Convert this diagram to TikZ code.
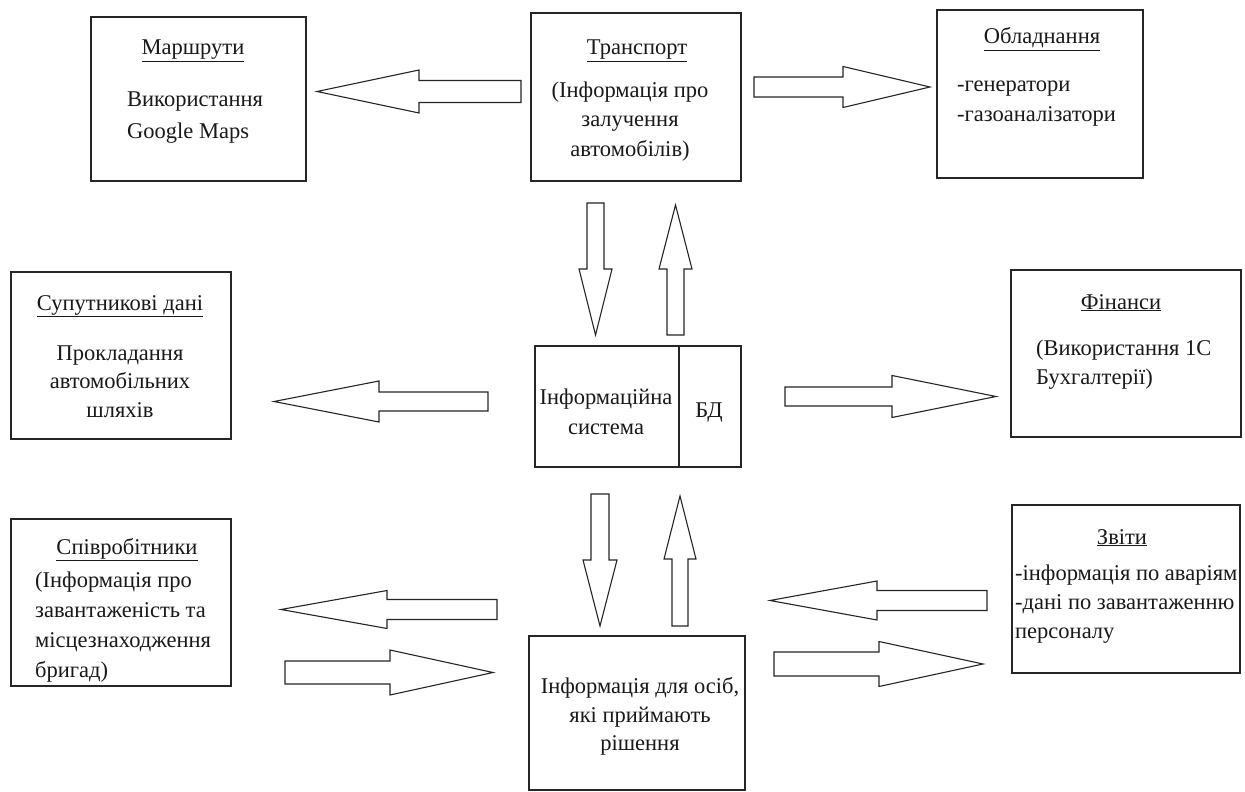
\documentclass[tikz,border=0pt]{standalone}
\usepackage{fontspec}
\setmainfont{Liberation Serif}
\usetikzlibrary{calc}
\tikzset{
  box/.style={draw=black!85, line width=1.4bp, inner sep=0pt, fill=none},
  txt/.style={inner sep=0pt, font=\fontsize{22.5bp}{29.5bp}\selectfont, text=black!90},
  blk/.style={draw=black!85, line width=1.1bp, fill=white, line join=miter, miter limit=6},
}
\newcommand{\bkarrow}[5]{%
  \coordinate (hb) at ($(#2)!#5!(#1)$);
  \draw[blk] ($(#1)!#3!90:(#2)$) -- ($(hb)!#3!-90:(#1)$) -- ($(hb)!#4!-90:(#1)$) -- (#2)
    -- ($(hb)!#4!90:(#1)$) -- ($(hb)!#3!90:(#1)$) -- ($(#1)!#3!-90:(#2)$) -- cycle;}
\begin{document}
\begin{tikzpicture}[x=1bp,y=-1bp]
\useasboundingbox (0,0) rectangle (1245,792);
\fill[white] (0,0) rectangle (1245,792);

% boxes
\node[box, minimum width=215bp, minimum height=164bp] (m) at (198.5,99) {};
\node[box, minimum width=210bp, minimum height=168bp] (t) at (636,97) {};
\node[box, minimum width=206bp, minimum height=168bp] (o) at (1040,94) {};
\node[box, minimum width=220bp, minimum height=167bp] (s) at (121,355.5) {};
\node[box, minimum width=206bp, minimum height=121bp] (is) at (638,406.5) {};
\node[box, minimum width=230bp, minimum height=167bp] (f) at (1126,353.5) {};
\node[box, minimum width=220bp, minimum height=167bp] (sp) at (121,602.5) {};
\node[box, minimum width=216bp, minimum height=154bp] (d) at (637,713) {};
\node[box, minimum width=228bp, minimum height=168bp] (z) at (1126,589) {};
\coordinate (isdivT) at (679,346);
\coordinate (isdivB) at (679,467);
\draw[line width=1.4bp, draw=black!85] (isdivT) -- (isdivB);

% texts
\node[txt, anchor=base] (mT) at (193,55) {\underline{Маршрути}};
\node[txt, anchor=west, align=left, font=\fontsize{22.5bp}{32bp}\selectfont] (mB) at (127,118) {Використання\\Google Maps};
\node[txt, anchor=base] (tT) at (637,55) {\underline{Транспорт}};
\node[txt, align=center] (tB) at (630,121.5) {(Інформація про\\залучення\\автомобілів)};
\node[txt, anchor=base] (oT) at (1042,44) {\underline{Обладнання}};
\node[txt, anchor=west, align=left, font=\fontsize{22.5bp}{30bp}\selectfont] (oB) at (957,104) {-генератори\\-газоаналізатори};
\node[txt, anchor=base] (sT) at (120,310) {\underline{Супутникові дані}};
\node[txt, align=center, font=\fontsize{22.5bp}{28.5bp}\selectfont] (sB) at (120,381.5) {Прокладання\\автомобільних\\шляхів};
\node[txt, align=center, font=\fontsize{22.5bp}{30bp}\selectfont] (isL) at (606,412) {Інформаційна\\система};
\node[txt, anchor=base] (isR) at (709,417) {БД};
\node[txt, anchor=base] (fT) at (1121,309) {\underline{Фінанси}};
\node[txt, anchor=west, align=left, font=\fontsize{22.5bp}{29bp}\selectfont] (fB) at (1036,364.5) {(Використання 1С\\Бухгалтерії)};
\node[txt, anchor=base] (spT) at (127,554) {\underline{Співробітники}};
\node[txt, anchor=west, align=left, font=\fontsize{22.5bp}{30bp}\selectfont] (spB) at (35,627) {(Інформація про\\завантаженість та\\місцезнаходження\\бригад)};
\node[txt, align=center, font=\fontsize{22.5bp}{28.5bp}\selectfont] (dB) at (640,716.5) {Інформація для осіб,\\які приймають\\рішення};
\node[txt, anchor=base] (zT) at (1122,544) {\underline{Звіти}};
\node[txt, anchor=west, align=left, font=\fontsize{22.5bp}{29bp}\selectfont] (zB) at (1015,604) {-інформація по аваріям\\-дані по завантаженню\\персоналу};

% block arrows
\coordinate (a1s) at (521,91.5);   \coordinate (a1e) at (317,91.5);
\coordinate (a2s) at (754,87);     \coordinate (a2e) at (930,87);
\coordinate (a3s) at (595.5,203);  \coordinate (a3e) at (595.5,335);
\coordinate (a4s) at (675.5,335);  \coordinate (a4e) at (675.5,205);
\coordinate (a5s) at (488,401.5);  \coordinate (a5e) at (274,401.5);
\coordinate (a6s) at (785,396.5);  \coordinate (a6e) at (996,396.5);
\coordinate (a7s) at (600,494);    \coordinate (a7e) at (600,626);
\coordinate (a8s) at (680,626);    \coordinate (a8e) at (680,496);
\coordinate (a9s) at (497,609.5);  \coordinate (a9e) at (281,609.5);
\coordinate (a10s) at (285,672.5); \coordinate (a10e) at (493,672.5);
\coordinate (a11s) at (987,600.5); \coordinate (a11e) at (770,600.5);
\coordinate (a12s) at (774,664);   \coordinate (a12e) at (983,664);

\bkarrow{a1s}{a1e}{11bp}{21.5bp}{102bp}
\bkarrow{a2s}{a2e}{10bp}{20.5bp}{87bp}
\bkarrow{a3s}{a3e}{8.5bp}{16.5bp}{66bp}
\bkarrow{a4s}{a4e}{8.5bp}{16.5bp}{64bp}
\bkarrow{a5s}{a5e}{9.5bp}{20.5bp}{105bp}
\bkarrow{a6s}{a6e}{9.5bp}{21bp}{104bp}
\bkarrow{a7s}{a7e}{9bp}{17bp}{66bp}
\bkarrow{a8s}{a8e}{8bp}{16bp}{63bp}
\bkarrow{a9s}{a9e}{10bp}{19bp}{106bp}
\bkarrow{a10s}{a10e}{11.5bp}{22.5bp}{103bp}
\bkarrow{a11s}{a11e}{10bp}{19.5bp}{107bp}
\bkarrow{a12s}{a12e}{12bp}{22.5bp}{104bp}
\end{tikzpicture}
\end{document}
